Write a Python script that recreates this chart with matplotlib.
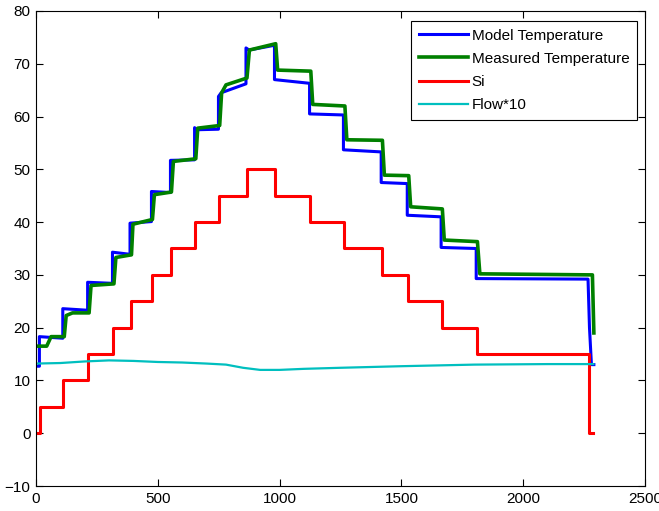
import matplotlib
matplotlib.use("Agg")
import matplotlib.pyplot as plt

plt.rcParams["font.family"] = ["Liberation Sans", "DejaVu Sans"]

# Si set-point (stepped, post)
si_x = [0, 15, 112, 212, 317, 389, 477, 554, 653, 751, 865, 981, 1125,
        1264, 1419, 1526, 1665, 1809, 2270, 2288]
si_y = [0, 5, 10, 15, 20, 25, 30, 35, 40, 45, 50, 45, 40, 35, 30, 25, 20,
        15, 0, 0]

# Model temperature breakpoints
model_x = [0, 14, 14, 110, 110, 212, 212, 314, 314, 386, 386, 474, 474,
           552, 552, 651, 651, 660, 749, 749, 760, 862, 862, 875, 979,
           979, 1123, 1123, 1262, 1262, 1417, 1417, 1524, 1524, 1663,
           1663, 1807, 1807, 2266, 2272, 2280, 2290]
model_y = [12.7, 12.7, 18.3, 18.0, 23.6, 23.3, 28.6, 28.4, 34.3, 33.9,
           39.8, 40.1, 45.8, 45.6, 51.7, 51.8, 57.9, 57.5, 57.6, 63.8, 64.5,
           66.2, 73.0, 72.6, 73.5, 67.0, 66.3, 60.5, 60.3, 53.7, 53.3, 47.5,
           47.3, 41.3, 41.0, 35.2, 35.0, 29.3, 29.2, 20.0, 13.0, 13.0]

# Measured temperature breakpoints
meas_x = [0, 44, 62, 116, 124, 150, 218, 226, 320, 328, 392, 398, 478,
          486, 556, 564, 656, 664, 754, 762, 780, 866, 876, 984, 992, 1128,
          1136, 1268, 1276, 1422, 1430, 1530, 1538, 1668, 1676, 1812, 1822,
          2284, 2290]
meas_y = [16.5, 16.5, 18.3, 18.3, 22.3, 22.8, 22.8, 28.0, 28.3, 33.3, 33.8,
          39.6, 40.5, 45.2, 45.7, 51.5, 52.0, 57.8, 58.3, 64.5, 66.0, 67.3,
          72.6, 73.8, 68.8, 68.6, 62.3, 62.0, 55.6, 55.5, 48.9, 48.8, 42.9,
          42.5, 36.6, 36.3, 30.2, 30.0, 19.0]

# Flow * 10
flow_x = [0, 100, 200, 300, 400, 500, 600, 700, 780, 850, 920, 1000, 1100,
          1250, 1500, 1800, 2100, 2288]
flow_y = [13.2, 13.3, 13.6, 13.8, 13.7, 13.5, 13.4, 13.2, 13.0, 12.4, 12.0,
          12.0, 12.2, 12.4, 12.7, 13.0, 13.1, 13.1]

fig = plt.figure(figsize=(6.59, 5.11), dpi=100)
ax = fig.add_axes([0.0546, 0.0489, 0.9242, 0.9296])

ax.plot(model_x, model_y, color=(0, 0, 1), lw=2.2, label="Model Temperature")
ax.plot(meas_x, meas_y, color=(0, 0.5, 0), lw=2.6, label="Measured Temperature")
ax.step(si_x, si_y, where="post", color=(1, 0, 0), lw=2.2, label="Si")
ax.plot(flow_x, flow_y, color=(0, 0.75, 0.75), lw=1.6, label="Flow*10")

ax.set_xlim(0, 2500)
ax.set_ylim(-10, 80)
ax.set_xticks(range(0, 2501, 500))
ax.set_yticks(range(-10, 81, 10))
ax.tick_params(direction="in", length=5, width=0.8, top=True, right=True,
               labelsize=11, pad=4)
for sp in ax.spines.values():
    sp.set_linewidth(0.8)

leg = ax.legend(loc="upper right", bbox_to_anchor=(0.987, 0.979),
                fontsize=11, frameon=True, fancybox=False, framealpha=1,
                edgecolor="black", handlelength=3.2, handletextpad=0.25,
                labelspacing=0.6, borderaxespad=0, borderpad=0.5)
leg.get_frame().set_linewidth(0.8)

fig.savefig("out.png", dpi=100)
